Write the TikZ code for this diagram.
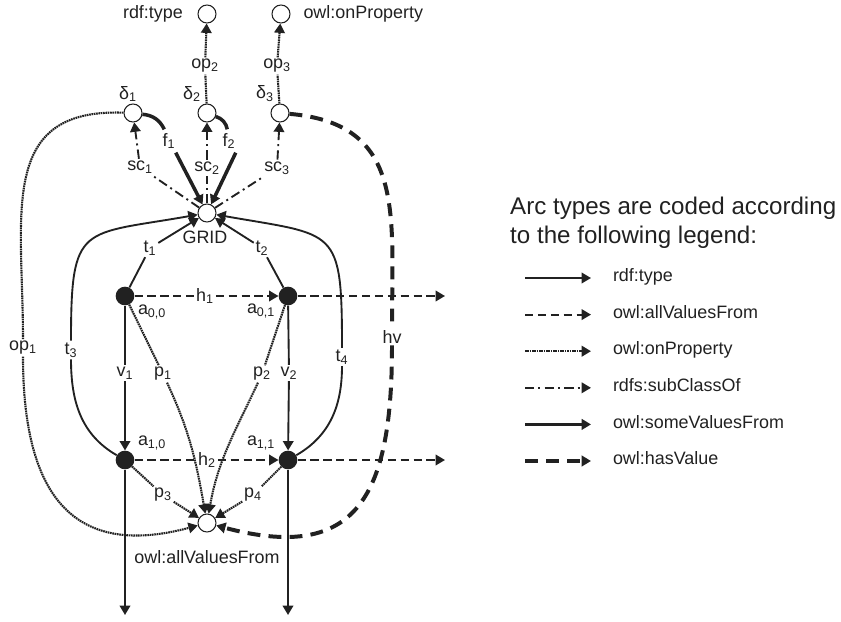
\documentclass[tikz,border=0pt]{standalone}
\usepackage{fontspec}
\setmainfont{Liberation Sans}
\usetikzlibrary{arrows.meta}
\usetikzlibrary{positioning}
\definecolor{arcink}{gray}{0.13}

\begin{document}
\begin{tikzpicture}[x=0.03cm, y=0.03cm, color=arcink,
	font=\fontsize{15.3}{18}\selectfont,
	res/.style={circle, draw, line width=0.9pt, fill=white, minimum size=0.54cm, inner sep=0pt},
	ind/.style={circle, fill, minimum size=0.56cm, inner sep=0pt},
	lbl/.style={inner sep=1.5pt},
	tip/.style={-{Triangle[length=8pt,width=9pt]}},
	rdftype/.style={tip, line width=1.6pt},
	allval/.style={tip, line width=1.6pt, dash pattern=on 7pt off 4pt},
	onprop/.style={tip, line width=1.8pt, dash pattern=on 1.4pt off 0.6pt},
	subcls/.style={tip, line width=1.6pt, dash pattern=on 8pt off 3.5pt on 1.7pt off 3.5pt},
	somevals/.style={tip, line width=3pt},
	hasval/.style={tip, line width=3.4pt, dash pattern=on 11pt off 7pt}]
			\useasboundingbox (0,0) rectangle (841,-622);
			% resources and individuals
			\node[res] (rt) at (207,-14) {};
			\node[res] (op) at (281,-14) {};
			\node[lbl, left=0.38cm of rt] (rtl) {rdf:type};
			\node[lbl, right=0.33cm of op] (opl) {owl:onProperty};
			\node[res] (d1) at (133,-113) {};
			\node[res] (d2) at (207,-113) {};
			\node[res] (d3) at (280,-113) {};
			\node[lbl] (d1l) at (128,-94) {δ\textsubscript{1}};
			\node[lbl] (d2l) at (192,-94) {δ\textsubscript{2}};
			\node[lbl] (d3l) at (265,-94) {δ\textsubscript{3}};
			\node[res] (grid) at (207,-213) {};
			\node[lbl] (gridl) at (205,-237) {GRID};
			\node[ind] (a00) at (125,-296) {};
			\node[ind] (a01) at (288,-296) {};
			\node[ind] (a10) at (125,-460) {};
			\node[ind] (a11) at (288,-460) {};
			\node[lbl] (a00l) at (152,-312) {a\textsubscript{0,0}};
			\node[lbl] (a01l) at (261,-311) {a\textsubscript{0,1}};
			\node[lbl] (a10l) at (152,-443) {a\textsubscript{1,0}};
			\node[lbl] (a11l) at (261,-443) {a\textsubscript{1,1}};
			\node[res] (avf) at (207,-523) {};
			\node[lbl] (avfl) at (207,-557) {owl:allValuesFrom};
			\coordinate (r0) at (445,-296);
			\coordinate (r1) at (445,-460);
			\coordinate (e0) at (125,-615);
			\coordinate (e1) at (288,-615);
			% arc labels
			\node[lbl] (op1l) at (23,-348) {op\textsubscript{1}};
			\node[lbl] (op2l) at (205,-66) {op\textsubscript{2}};
			\node[lbl] (op3l) at (277,-66) {op\textsubscript{3}};
			\node[lbl] (sc1l) at (140,-167) {sc\textsubscript{1}};
			\node[lbl] (sc2l) at (207,-168) {sc\textsubscript{2}};
			\node[lbl] (sc3l) at (277,-168) {sc\textsubscript{3}};
			\node[lbl, inner sep=3pt] (f1l) at (169,-141) {f\textsubscript{1}};
			\node[lbl, inner sep=3pt] (f2l) at (229,-141) {f\textsubscript{2}};
			\node[lbl] (t1l) at (150,-248) {t\textsubscript{1}};
			\node[lbl] (t2l) at (262,-248) {t\textsubscript{2}};
			\node[lbl] (t3l) at (71,-350) {t\textsubscript{3}};
			\node[lbl] (t4l) at (342,-357) {t\textsubscript{4}};
			\node[lbl] (hvl) at (392,-337) {hv};
			\node[lbl] (h1l) at (205,-296) {h\textsubscript{1}};
			\node[lbl] (h2l) at (207,-460) {h\textsubscript{2}};
			\node[lbl] (v1l) at (125,-373) {v\textsubscript{1}};
			\node[lbl] (v2l) at (289,-373) {v\textsubscript{2}};
			\node[lbl] (p1l) at (163,-374) {p\textsubscript{1}};
			\node[lbl] (p2l) at (262,-374) {p\textsubscript{2}};
			\node[lbl] (p3l) at (163,-495) {p\textsubscript{3}};
			\node[lbl] (p4l) at (253,-495) {p\textsubscript{4}};
			% arcs
			\draw[onprop] (d2) -- (op2l) -- (rt);
			\draw[onprop] (d3) -- (op3l) -- (op);
			\draw[subcls] (grid) -- (sc1l) -- (d1);
			\draw[subcls] (grid) -- (sc2l) -- (d2);
			\draw[subcls] (grid) -- (sc3l) -- (d3);
			\draw[somevals] (d1) to[bend left=30] (f1l) (f1l.300) -- (grid);
			\draw[somevals] (d2) to[bend left=30] (f2l) (f2l.300) -- (grid);
			\draw[rdftype] (a00) -- (t1l) -- (grid);
			\draw[rdftype] (a01) -- (t2l) -- (grid);
			\draw[rdftype] (a10) to[out=150,in=-90] (t3l) to[out=90,in=190,looseness=1.7] (grid);
			\draw[rdftype] (a11) to[out=30,in=-90] (t4l) to[out=90,in=-10,looseness=1.7] (grid);
			\draw[onprop] (d1) to[out=178,in=90,looseness=1.3] (op1l) to[out=-90,in=195,looseness=1.4] (avf);
			\draw[hasval] (d3) to[out=-5,in=90,looseness=1.25] (hvl) to[out=-90,in=-15,looseness=1.5] (avf);
			\draw[onprop] (a00) -- (p1l) to[out=-65,in=100] (avf);
			\draw[onprop] (a01) -- (p2l) to[out=-115,in=80] (avf);
			\draw[onprop] (a10) -- (p3l) -- (avf);
			\draw[onprop] (a11) -- (p4l) -- (avf);
			\draw[allval] (a00) -- (h1l) -- (a01);
			\draw[allval] (a01) -- (r0);
			\draw[allval] (a10) -- (h2l) -- (a11);
			\draw[allval] (a11) -- (r1);
			\draw[rdftype] (a00) -- (v1l) -- (a10);
			\draw[rdftype] (a01) -- (v2l) -- (a11);
			\draw[rdftype] (a10) -- (e0);
			\draw[rdftype] (a11) -- (e1);
			% legend
			\node[anchor=base west, align=left, inner sep=0pt, font=\fontsize{20.6}{24.7}\selectfont] (ttl) at (510,-243)
				{Arc types are coded according\\to the following legend:};
			\foreach \sty/\txt [count=\i] in {rdftype/rdf:type, allval/owl:allValuesFrom, onprop/owl:onProperty,
				subcls/rdfs:subClassOf, somevals/owl:someValuesFrom, hasval/owl:hasValue}{
				\coordinate (lgs\i) at (525,{-278-36.6*(\i-1)});
				\coordinate (lge\i) at (591,{-278-36.6*(\i-1)});
				\node[lbl, anchor=west, text height=1.6ex, text depth=0.4ex] (lgt\i) at (611,{-278-36.6*(\i-1)}) {\txt};
				\draw[\sty] (lgs\i) -- (lge\i);
			}
		\end{tikzpicture}
\end{document}
